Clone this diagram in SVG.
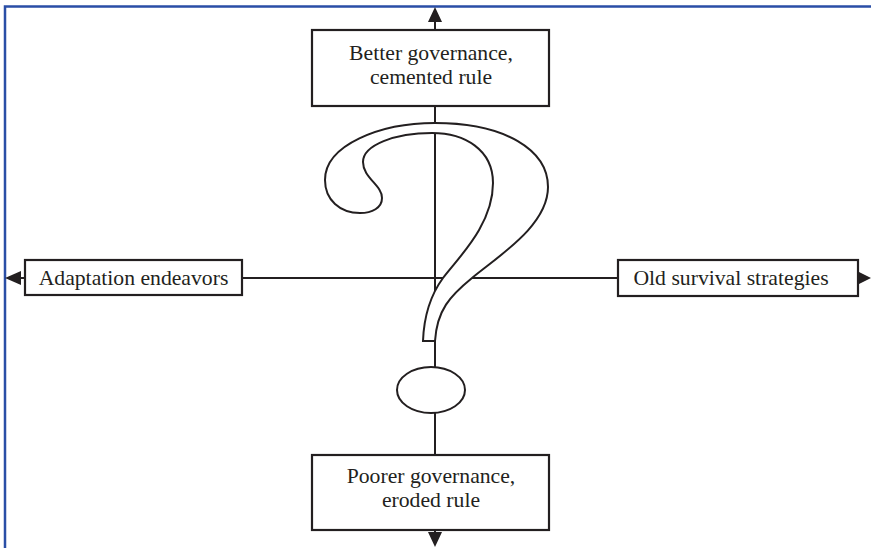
<svg xmlns="http://www.w3.org/2000/svg" width="871" height="548" viewBox="0 0 871 548">
<style>
.box{fill:#fff;stroke:#231f20;stroke-width:2.2}
.ln{stroke:#231f20;stroke-width:2;fill:none}
.ah{fill:#231f20}
.t{font-family:"Liberation Serif","Times New Roman",serif;font-size:21.7px;fill:#231f20;text-anchor:middle}
.frame{stroke:#2a4ea6;stroke-width:2.5;fill:none}
</style>
<rect width="871" height="548" fill="#fff"/>
<g id="frame">
<path class="frame" d="M5,548 V6.5 H871"/>
</g>
<g id="connectors">
<line class="ln" x1="435" y1="20" x2="435" y2="535"/>
<line class="ln" x1="20" y1="278" x2="858" y2="278"/>
<polygon class="ah" points="435,7 428,22 442,22"/>
<polygon class="ah" points="435,547 428,532 442,532"/>
<polygon class="ah" points="5,278 21,271 21,285"/>
<polygon class="ah" points="871,278 857,271 857,285"/>
</g>
<g id="question-mark">
<path d="M423,341 C424,315 432,293 443,278 C458,258 493,225 493,183 C493,150 465,133 432,133 C395,133 363,145 363,162 C363,178 382,185 382,198 C382,208 372,213 360,213 C340,213 325,200 325,180 C325,145 380,123 435,123 C505,123 548,150 548,187 C548,225 500,255 472,278 C450,296 437,310 435,341 Z" fill="#fff" stroke="#231f20" stroke-width="2" stroke-linejoin="miter"/>
<ellipse cx="431" cy="390" rx="34" ry="23" fill="#fff" stroke="#231f20" stroke-width="2"/>
</g>
<g id="node-top">
<rect class="box" x="312" y="30" width="237" height="76"/>
<text class="t" x="431" y="60">Better governance,</text>
<text class="t" x="431" y="84">cemented rule</text>
</g>
<g id="node-bottom">
<rect class="box" x="312" y="455" width="237" height="75"/>
<text class="t" x="431" y="483">Poorer governance,</text>
<text class="t" x="431" y="507">eroded rule</text>
</g>
<g id="node-left">
<rect class="box" x="25" y="260" width="217" height="35"/>
<text class="t" x="133.5" y="284.5">Adaptation endeavors</text>
</g>
<g id="node-right">
<rect class="box" x="618" y="260" width="240" height="36"/>
<text class="t" x="731" y="284.5">Old survival strategies</text>
</g>
</svg>
